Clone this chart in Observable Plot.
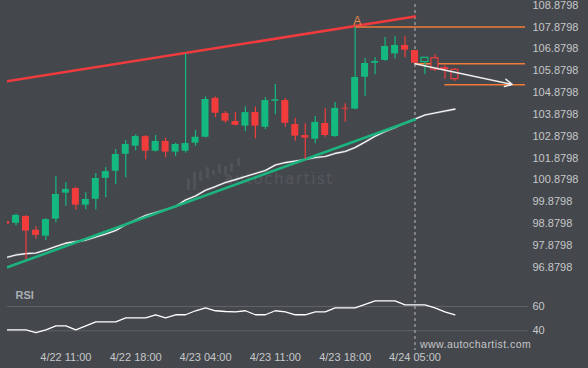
<!DOCTYPE html>
<html><head><meta charset="utf-8">
<script src="https://cdn.jsdelivr.net/npm/d3@7"></script>
<script src="https://cdn.jsdelivr.net/npm/@observablehq/plot@0.6"></script>
<style>
html,body{margin:0;padding:0;background:#44474c;}
#wrap{position:relative;width:588px;height:368px;overflow:hidden;background:#44474c;font-family:"Liberation Sans",Arial,sans-serif;}
#wm{position:absolute;left:0;top:0;width:588px;height:368px;}
#wmtext{position:absolute;left:224px;top:170px;font-family:"DejaVu Sans",sans-serif;font-size:15px;letter-spacing:1.6px;color:#54575c;}
#url{position:absolute;left:420px;top:338px;font-size:10.5px;letter-spacing:0.45px;color:#c4c6c8;}
#plots{position:absolute;left:0;top:0;}
#plots svg{display:block;}
</style></head><body>
<div id="wrap">
  <div id="wm">
    <svg width="588" height="368" style="position:absolute;left:0;top:0">
      <g fill="#505358">
        <rect x="187" y="179" width="3" height="11"/>
        <rect x="193" y="172" width="3" height="18"/>
        <rect x="199" y="171" width="3" height="10"/>
        <rect x="206" y="167" width="3" height="11"/>
        <rect x="212" y="170" width="3" height="5"/>
        <rect x="218" y="164" width="3" height="9"/>
        <rect x="224" y="166" width="3" height="9"/>
        <rect x="230" y="163" width="3" height="9"/>
        <rect x="237" y="158" width="3" height="8"/>
      </g>
    </svg>
    <div id="wmtext">autochartist</div>
  </div>
  <div id="plots"></div>
  <div id="url">www.autochartist.com</div>
</div>
<script>
// ---- data ----
const opens  = [98.97,98.89,99.20,98.57,98.30,99.08,100.27,100.48,99.72,99.99,100.95,101.27,102.05,102.42,102.86,102.19,102.64,102.15,102.19,102.56,102.83,104.61,103.92,103.55,103.34,103.96,103.29,104.48,104.51,103.41,102.91,102.74,103.46,102.86,104.16,104.12,105.58,106.22,106.35,106.65,107.03,106.80,106.27,106.45,105.99,105.92];
const highs  = [98.99,99.31,99.25,98.73,99.11,101.03,100.76,100.54,100.29,101.17,101.44,102.27,102.68,102.94,102.91,102.91,102.79,102.56,106.65,103.14,104.68,104.68,104.01,103.96,104.22,104.22,104.65,105.25,104.61,103.69,103.45,103.78,104.15,104.42,104.36,107.8798,106.44,106.47,107.40,107.43,107.43,106.80,106.47,106.61,106.10,105.97];
const lows   = [98.83,98.77,97.22,98.16,98.10,98.91,99.67,99.49,99.51,99.51,100.06,100.65,100.97,102.21,101.80,102.15,101.89,101.95,102.10,102.42,102.80,103.72,103.47,103.35,103.08,102.76,103.17,103.86,103.29,102.65,101.82,102.53,102.83,102.83,103.52,104.09,104.71,105.69,106.31,106.41,106.47,106.21,105.69,105.84,105.49,105.38];
const closes = [98.85,99.25,98.53,98.34,99.06,100.21,100.44,99.72,99.98,100.94,101.26,102.04,102.50,102.86,102.19,102.64,102.15,102.50,102.54,102.83,104.56,103.93,103.57,103.38,103.96,103.34,104.51,104.55,103.47,102.88,102.79,103.51,102.91,104.15,104.12,105.57,106.21,106.30,106.99,107.03,106.82,106.22,106.47,105.93,105.95,105.49];
const firstForecast = 42;
const movingAvg = [97.32,97.44,97.50,97.53,97.67,97.83,97.98,98.05,98.12,98.26,98.40,98.56,98.83,99.04,99.25,99.38,99.52,99.66,99.96,100.14,100.40,100.57,100.76,100.89,101.03,101.17,101.31,101.56,101.67,101.74,101.81,101.90,101.95,102.09,102.18,102.36,102.61,102.88,103.09,103.28,103.48,103.67,103.85,103.94,104.03,104.12];
const rsiValues = [40.8,40.8,40.7,38.4,40.8,44.1,44.1,40.8,44.1,47.4,47.4,47.4,50.7,50.7,50.7,53.2,50.7,53.2,53.2,56.5,58.9,56.5,55.9,55.6,56.5,53.2,53.2,56.5,55.6,53.2,53.2,55.6,55.6,58.9,58.9,58.9,61.8,64.7,64.7,64.7,61.4,61.4,61.4,58.9,55.6,53.2];
const resistanceLine = [{i:0, p:105.386},{i:41, p:108.361}];
const supportLine    = [{i:0, p:96.852},{i:41, p:103.643}];
const levelPrices = [107.8798, 106.20, 105.23];
const levelStarts = [35, 41, 44];
const levelEnd = 52.08;
const forecastArrow = [{i1:41, p1:106.20, i2:50.74, p2:105.25}];
const patternPoint = [{i:35, p:107.8798, label:"A"}];
const nowIndex = 41;
const yTicks = [96.8798,97.8798,98.8798,99.8798,100.8798,101.8798,102.8798,103.8798,104.8798,105.8798,106.8798,107.8798,108.8798];
const xTickIdx = [6,13,20,27,34,41];
const xTickLabels = ["4/22 11:00","4/22 18:00","4/23 04:00","4/23 11:00","4/23 18:00","4/24 05:00"];
const rsiTicks = [40,60];

// ---- styles ----
const BG = "#44474c", UP = "#14b97f", DOWN = "#f23c3c";
const candles = opens.map((o,i)=>({i, open:o, high:highs[i], low:lows[i], close:closes[i],
  up: closes[i] >= o, future: i >= firstForecast}));
const col = d => d.up ? UP : DOWN;
const xDomain = [0.148, 52.38];
const fontStyle = {background:"transparent", color:"#c6c8ca", fontFamily:"'Liberation Sans', Arial, sans-serif", fontSize:"11px", overflow:"visible"};
const maData = movingAvg.map((v,i)=>({i,v}));

const main = Plot.plot({
  width: 588, height: 276,
  marginLeft: 7, marginRight: 60, marginTop: 4, marginBottom: 0,
  style: fontStyle,
  x: {type:"linear", domain: xDomain, axis: null, label: null},
  y: {type:"linear", domain: [96.8798, 108.8798], range: [266.67, 4.67], label: null},
  marks: [
    Plot.axisY(yTicks, {anchor:"right", tickSize:0, tickPadding:4, label:null, tickFormat: d => d.toFixed(4)}),
    Plot.ruleX([nowIndex], {stroke:"#b9bbbe", strokeWidth:1, strokeDasharray:"3,3"}),
    Plot.line(maData, {x:"i", y:"v", stroke:"#7d8084", strokeWidth:2.2, clip:true}),
    Plot.line(maData, {x:"i", y:"v", stroke:"#ffffff", strokeWidth:1.1, clip:true}),
    Plot.line(supportLine, {x:"i", y:"p", stroke:"#1bb47e", strokeWidth:2.6, clip:true}),
    Plot.line(resistanceLine, {x:"i", y:"p", stroke:"#ef3b3e", strokeWidth:2.6, clip:true}),
    Plot.ruleY(levelPrices.map((p,k)=>({p, s:levelStarts[k], e:levelEnd})), {y:"p", x1:"s", x2:"e", stroke:"#f07a36", strokeWidth:1.5}),
    Plot.ruleX(candles, {x:"i", y1:"low", y2:"high", stroke: col, strokeWidth:1.2, clip:true}),
    Plot.rect(candles, {x1: d=>d.i-0.35, x2: d=>d.i+0.35, y1:"open", y2:"close",
      fill: d => d.future ? BG : col(d), stroke: d => d.future ? col(d) : "none", strokeWidth:1.2, clip:true}),
    Plot.arrow(forecastArrow, {x1:"i1", y1:"p1", x2:"i2", y2:"p2", stroke:"#eeeeee", strokeWidth:1.5, headLength:8, headAngle:55}),
    Plot.text(patternPoint, {x:"i", y:"p", text:"label", fill:"#e8874c", fontSize:12, lineAnchor:"bottom", dy:-2, dx:2})
  ]
});

const rsiData = rsiValues.map((v,i)=>({i,v}));
const rsi = Plot.plot({
  width: 588, height: 92,
  marginLeft: 7, marginRight: 60, marginTop: 0, marginBottom: 18,
  style: fontStyle,
  x: {type:"linear", domain: xDomain, label: null},
  y: {type:"linear", domain: [40, 60], range: [54.3, 30], label: null},
  marks: [
    Plot.ruleY(rsiTicks, {stroke:"#5e6267", strokeWidth:1}),
    Plot.axisY(rsiTicks, {anchor:"right", tickSize:0, tickPadding:4, label:null}),
    Plot.axisX(xTickIdx, {anchor:"bottom", tickSize:0, tickPadding:3, label:null, tickFormat: d => xTickLabels[xTickIdx.indexOf(d)]}),
    Plot.ruleX([nowIndex], {stroke:"#b9bbbe", strokeWidth:1, strokeDasharray:"3,3"}),
    Plot.line(rsiData, {x:"i", y:"v", stroke:"#ffffff", strokeWidth:1.3, clip:true}),
    Plot.text(["RSI"], {frameAnchor:"top-left", dx:8, dy:15, fill:"#aaaeb5", fontWeight:"bold", fontSize:11, textAnchor:"start"})
  ]
});

const holder = document.getElementById("plots");
holder.appendChild(main);
holder.appendChild(rsi);
</script>
</body></html>
